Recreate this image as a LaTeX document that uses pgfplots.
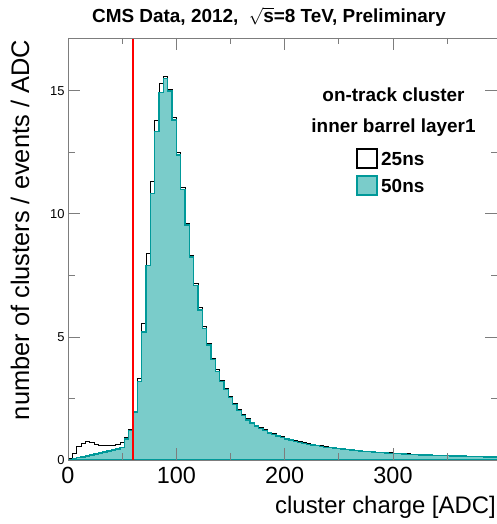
\documentclass[border=0pt]{standalone}
\usepackage{fontspec}
\setmainfont{Liberation Sans}
\usepackage{pgfplots}
\usepackage{pgfplotstable}
\pgfplotsset{compat=1.18}
\definecolor{tealfill}{RGB}{122,204,202}
\definecolor{tealline}{RGB}{0,153,153}
\definecolor{framegray}{RGB}{125,125,125}

% 50ns, bin left edge and content (bins of 4 ADC)
\pgfplotstableread{
x y
0 0.01
4 0.05
8 0.09
12 0.13
16 0.17
20 0.21
24 0.25
28 0.29
32 0.33
36 0.37
40 0.41
44 0.45
48 0.50
52 0.85
56 1.20
60 1.95
64 3.18
68 5.20
72 7.90
76 10.84
80 13.35
84 14.93
88 15.50
92 15.00
96 13.82
100 12.40
104 11.00
108 9.55
112 8.25
116 7.10
120 6.10
124 5.35
128 4.68
132 4.08
136 3.60
140 3.20
144 2.86
148 2.55
152 2.26
156 2.02
160 1.80
164 1.63
168 1.50
172 1.38
176 1.28
180 1.19
184 1.10
188 1.03
192 0.97
196 0.91
200 0.86
204 0.81
208 0.76
212 0.72
216 0.68
220 0.64
224 0.61
228 0.58
232 0.55
236 0.52
240 0.50
244 0.48
248 0.46
252 0.44
256 0.42
260 0.40
264 0.38
268 0.365
272 0.35
276 0.335
280 0.32
284 0.31
288 0.30
292 0.285
296 0.275
300 0.265
304 0.255
308 0.245
312 0.235
316 0.225
320 0.22
324 0.21
328 0.205
332 0.20
336 0.19
340 0.185
344 0.18
348 0.175
352 0.17
356 0.165
360 0.16
364 0.155
368 0.15
372 0.145
376 0.14
380 0.135
384 0.13
388 0.125
392 0.12
396 0.115
400 0.115
}\fiftyns

% 25ns
\pgfplotstableread{
x y
0 0.05
4 0.28
8 0.54
12 0.68
16 0.74
20 0.70
24 0.65
28 0.60
32 0.57
36 0.57
40 0.58
44 0.62
48 0.72
52 0.90
56 1.25
60 1.98
64 3.30
68 5.56
72 8.40
76 11.31
80 13.78
84 15.31
88 15.60
92 15.05
96 13.90
100 12.48
104 11.08
108 9.63
112 8.33
116 7.18
120 6.18
124 5.42
128 4.74
132 4.14
136 3.66
140 3.25
144 2.91
148 2.60
152 2.30
156 2.06
160 1.84
164 1.67
168 1.53
172 1.41
176 1.31
180 1.22
184 1.13
188 1.06
192 1.00
196 0.94
200 0.89
204 0.84
208 0.79
212 0.75
216 0.71
220 0.67
224 0.64
228 0.60
232 0.57
236 0.54
240 0.52
244 0.50
248 0.48
252 0.46
256 0.44
260 0.42
264 0.40
268 0.38
272 0.365
276 0.35
280 0.335
284 0.32
288 0.31
292 0.295
296 0.285
300 0.275
304 0.265
308 0.255
312 0.245
316 0.235
320 0.23
324 0.22
328 0.215
332 0.205
336 0.20
340 0.19
344 0.185
348 0.18
352 0.175
356 0.17
360 0.165
364 0.16
368 0.155
372 0.15
376 0.145
380 0.14
384 0.135
388 0.13
392 0.125
396 0.12
400 0.12
}\twentyfivens

\begin{document}
\begin{tikzpicture}
\useasboundingbox (0,0) rectangle (497bp,524bp);
\begin{axis}[
    at={(68bp,64bp)}, anchor=south west,
    scale only axis, width=429bp, height=422bp,
    xmin=0, xmax=396, ymin=0, ymax=17.15,
    xtick={0,100,200,300}, minor xtick={50,150,250,350},
    ytick={0,5,10,15}, minor ytick={2.5,7.5,12.5},
    tick align=inside,
    major tick length=12bp, minor tick length=6.5bp,
    axis line style={framegray, line width=0.9bp},
    every tick/.style={framegray, line width=0.9bp},
    /pgf/number format/assume math mode=true,
    xticklabel style={font=\fontsize{23.5}{23.5}\selectfont, yshift=-4bp},
    yticklabel style={font=\fontsize{13}{13}\selectfont},
    axis on top,
]
% 25ns
\addplot[const plot, black, line width=1bp] table[x=x, y=y] {\twentyfivens};
% 50ns
\addplot[const plot, draw=tealline, fill=tealfill, line width=1.4bp] table[x=x, y=y] {\fiftyns} \closedcycle;
% cut
\addplot[red, line width=1.5bp] coordinates {(60,0) (60,17.15)};
\end{axis}
% title and labels
\node[font=\bfseries\fontsize{19}{19}\selectfont, inner sep=0pt] at (269bp,507bp) {CMS Data, 2012,\ \ $\sqrt{\hbox{\bfseries s}}$=8 TeV, Preliminary};
\node[font=\fontsize{24}{24}\selectfont, anchor=base east, inner sep=0pt] at (496bp,11bp) {cluster charge [ADC]};
\node[font=\fontsize{25.5}{25.5}\selectfont, rotate=90, anchor=east, inner sep=0pt] at (20bp,484bp) {number of clusters / events / ADC};
% legend
\node[font=\bfseries\fontsize{19}{19}\selectfont] at (393.5bp,429bp) {on-track cluster};
\node[font=\bfseries\fontsize{19}{19}\selectfont] at (393.5bp,396bp) {inner barrel layer1};
\draw[black, line width=1.2bp] (357bp,356bp) rectangle (377bp,375bp);
\node[font=\bfseries\fontsize{19}{19}\selectfont, anchor=west, inner sep=0pt] at (381bp,365.5bp) {25ns};
\draw[tealline, fill=tealfill, line width=1.2bp] (357bp,329bp) rectangle (377bp,348bp);
\node[font=\bfseries\fontsize{19}{19}\selectfont, anchor=west, inner sep=0pt] at (381bp,338.5bp) {50ns};
\end{tikzpicture}
\end{document}
